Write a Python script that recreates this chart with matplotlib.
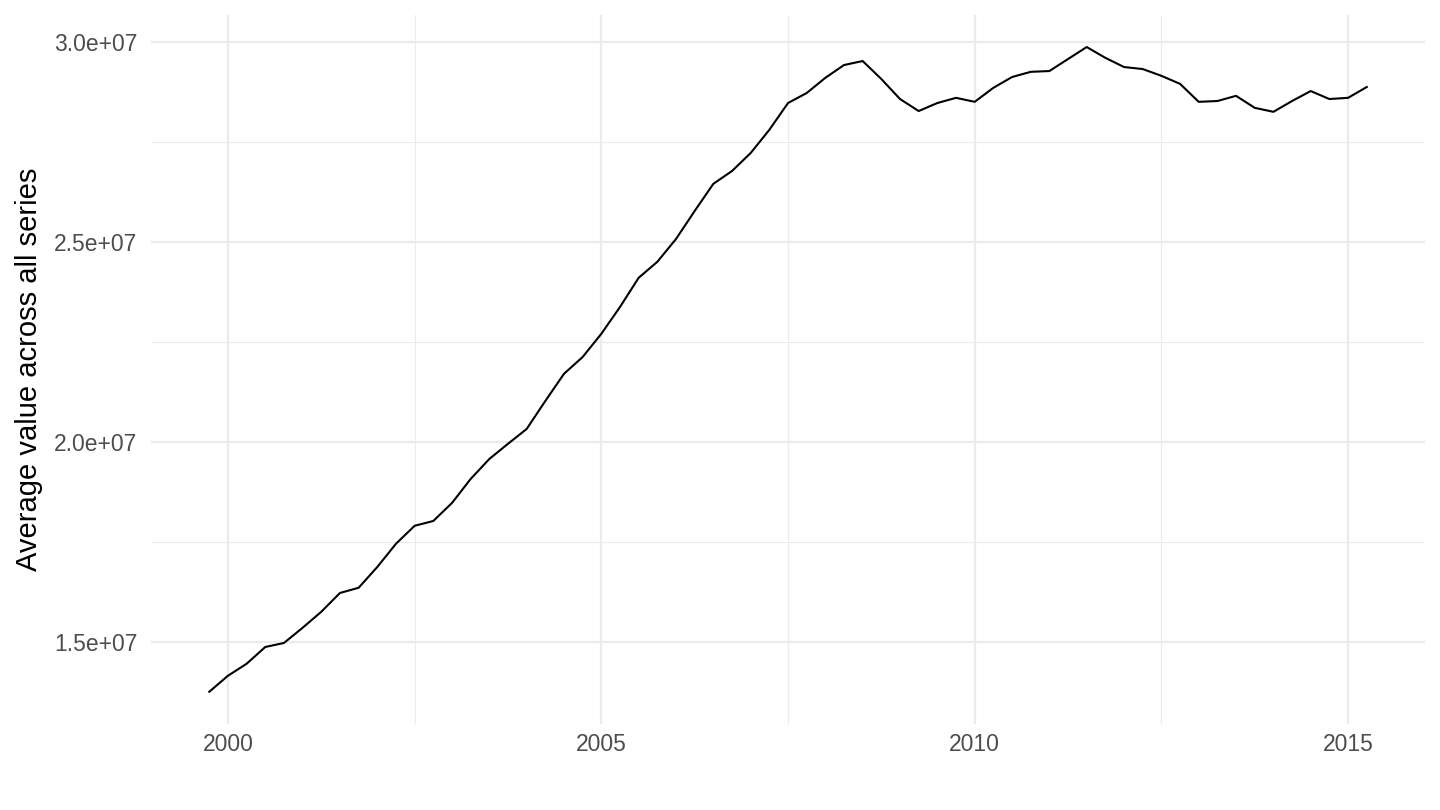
"""
Average value across all series, quarterly, 1999 Q4 - 2015 Q2.
"""

import numpy as np
from matplotlib import pyplot as plt
from matplotlib.ticker import FuncFormatter, MultipleLocator

plt.rcParams['font.family'] = ['Liberation Sans', 'DejaVu Sans']

# %%
# Data (millions)
# ---------------------------------------------
start_year = 1999.75
values_millions = [
    13.75, 14.15, 14.45, 14.87, 14.97, 15.35, 15.75, 16.22, 16.35, 16.87,
    17.45, 17.90, 18.02, 18.47, 19.07, 19.57, 19.95, 20.32, 21.02, 21.70,
    22.12, 22.70, 23.37, 24.10, 24.50, 25.07, 25.77, 26.45, 26.77, 27.22,
    27.80, 28.47, 28.72, 29.10, 29.42, 29.52, 29.07, 28.57, 28.27, 28.47,
    28.60, 28.50, 28.85, 29.12, 29.25, 29.27, 29.57, 29.87, 29.60, 29.37,
    29.32, 29.15, 28.95, 28.50, 28.52, 28.65, 28.35, 28.25, 28.52, 28.77,
    28.57, 28.60, 28.87,
]
x_ticks = [2000, 2005, 2010, 2015]
y_ticks = [1.5e7, 2.0e7, 2.5e7, 3.0e7]
y_label = "Average value across all series"


def main():
    years = start_year + 0.25 * np.arange(len(values_millions))
    values = np.array(values_millions) * 1e6

    fig = plt.figure(figsize=(14.4, 8.1), dpi=100)
    ax = fig.add_axes([151.4 / 1440, 1 - 724 / 810, (1424.6 - 151.4) / 1440, (724 - 14.8) / 810])

    ax.plot(years, values, color="black", lw=1.5, zorder=3)
    ax.margins(x=0.05, y=0.05)

    # ggplot2 theme_minimal look
    for s in ax.spines.values():
        s.set_visible(False)
    ax.set_xticks(x_ticks)
    ax.set_yticks(y_ticks)
    ax.xaxis.set_minor_locator(MultipleLocator(2.5))
    ax.yaxis.set_minor_locator(MultipleLocator(2.5e6))
    ax.yaxis.set_major_formatter(FuncFormatter(lambda v, _: f"{v:.1e}"))
    ax.grid(which="major", color="#EBEBEB", lw=1.6)
    ax.grid(which="minor", color="#EBEBEB", lw=0.8)
    ax.set_axisbelow(True)
    ax.tick_params(which="both", length=0, labelsize=16.5, labelcolor="#4D4D4D")
    ax.tick_params(axis="x", pad=6.3)
    ax.tick_params(axis="y", pad=10)
    ax.set_ylabel(y_label, fontsize=21, labelpad=8)
    ax.set_xlabel("")

    fig.savefig("out.png", dpi=100)


if __name__ == '__main__':
    main()
